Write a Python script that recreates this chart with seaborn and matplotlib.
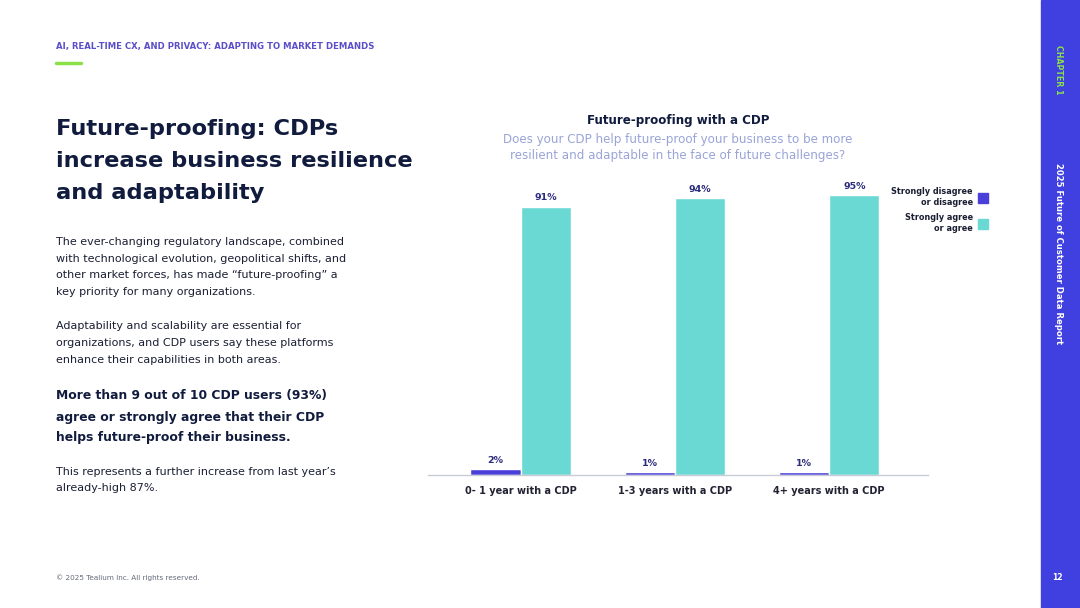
import pandas as pd
import matplotlib.pyplot as plt
import seaborn as sns
from matplotlib.patches import Rectangle
from matplotlib.lines import Line2D

groups = ["0- 1 year with a CDP", "1-3 years with a CDP", "4+ years with a CDP"]
answers = ["Strongly disagree\nor disagree", "Strongly agree\nor agree"]
disagree = [2, 1, 1]
agree = [91, 94, 95]

purple = "#4A3FD8"
teal = "#6AD9D4"
navy = "#101B3D"

df = pd.DataFrame({
    "Group": groups * 2,
    "Answer": [answers[0]] * 3 + [answers[1]] * 3,
    "Pct": disagree + agree,
})

sns.set_style("white")
plt.rcParams["font.family"] = ["DejaVu Sans"]

fig = plt.figure(figsize=(10.8, 6.08), dpi=100)
W, H = 1080, 608

ax = fig.add_axes([428 / W, 1 - 475 / H, 500 / W, 295 / H])
sns.barplot(data=df, x="Group", y="Pct", hue="Answer", order=groups,
            hue_order=answers, palette=[purple, teal], width=0.65,
            saturation=1, ax=ax, legend=False)
ax.set_xlim(-0.6, 2.64)
ax.set_ylim(0, 100)
for c in ax.containers:
    ax.bar_label(c, labels=[f"{v:.0f}%" for v in c.datavalues], padding=3,
                 fontsize=6.8, fontweight="bold", color="#2C2C7E")
ax.set_xlabel("")
ax.set_ylabel("")
ax.set_yticks([])
ax.tick_params(axis="x", length=0, pad=8, labelsize=7.0, labelcolor="#222233")
for t in ax.get_xticklabels():
    t.set_fontweight("bold")
for s in ["top", "right", "left"]:
    ax.spines[s].set_visible(False)
ax.spines["bottom"].set_color("#c9ccd8")
ax.spines["bottom"].set_linewidth(1)

handles = [Line2D([], [], marker="s", ls="", markersize=7, color=purple),
           Line2D([], [], marker="s", ls="", markersize=7, color=teal)]
fig.legend(handles, answers, loc="upper right", bbox_to_anchor=(999 / W, 1 - 180 / H),
           markerfirst=False, frameon=False, handletextpad=0.3,
           labelspacing=0.8, prop={"weight": "bold", "size": 5.9})
for t in fig.legends[0].get_texts():
    t.set_ha("right")
    t.set_multialignment("right")
    t.set_color("#1b1f33")

# chart titles
fig.text(678 / W, 1 - 120 / H, "Future-proofing with a CDP", ha="center", va="center",
         fontsize=8.6, fontweight="bold", color=navy)
fig.text(678 / W, 1 - 147 / H,
         "Does your CDP help future-proof your business to be more\n"
         "resilient and adaptable in the face of future challenges?",
         ha="center", va="center", fontsize=8.6, color="#9AA4D8", linespacing=1.3)

# left column
fig.text(56 / W, 1 - 47 / H, "AI, REAL-TIME CX, AND PRIVACY: ADAPTING TO MARKET DEMANDS",
         ha="left", va="center", fontsize=6.1, fontweight="bold", color="#5A4FC8")
fig.add_artist(Line2D([56 / W, 81 / W], [1 - 63 / H, 1 - 63 / H], color="#8BE04A", lw=2.5))
fig.text(56 / W, 1 - 161 / H,
         "Future-proofing: CDPs\nincrease business resilience\nand adaptability",
         ha="left", va="center", fontsize=16.2, fontweight="bold", color=navy,
         linespacing=1.77)
fig.text(56 / W, 1 - 267 / H,
         "The ever-changing regulatory landscape, combined\n"
         "with technological evolution, geopolitical shifts, and\n"
         "other market forces, has made \u201cfuture-proofing\u201d a\n"
         "key priority for many organizations.",
         ha="left", va="center", fontsize=8.0, color="#1b1f33", linespacing=1.86)
fig.text(56 / W, 1 - 343 / H,
         "Adaptability and scalability are essential for\n"
         "organizations, and CDP users say these platforms\n"
         "enhance their capabilities in both areas.",
         ha="left", va="center", fontsize=8.0, color="#1b1f33", linespacing=1.86)
fig.text(56 / W, 1 - 417 / H,
         "More than 9 out of 10 CDP users (93%)\n"
         "agree or strongly agree that their CDP\n"
         "helps future-proof their business.",
         ha="left", va="center", fontsize=8.9, fontweight="bold", color=navy,
         linespacing=1.8)
fig.text(56 / W, 1 - 480 / H,
         "This represents a further increase from last year\u2019s\n"
         "already-high 87%.",
         ha="left", va="center", fontsize=8.0, color="#1b1f33", linespacing=1.86)
fig.text(56 / W, 1 - 578 / H, "\u00a9 2025 Tealium Inc. All rights reserved.",
         ha="left", va="center", fontsize=5.2, color="#666a7a")

# side band
fig.add_artist(Rectangle((1041 / W, 0), 39 / W, 1, transform=fig.transFigure,
                         color="#4040E0", zorder=0))
fig.text(1059 / W, 1 - 70 / H, "CHAPTER 1", rotation=-90, ha="center", va="center",
         fontsize=5.7, fontweight="bold", color="#8BE04A")
fig.text(1059 / W, 1 - 254 / H, "2025 Future of Customer Data Report", rotation=-90,
         ha="center", va="center", fontsize=6.1, fontweight="bold", color="white")
fig.text(1057 / W, 1 - 578 / H, "12", ha="center", va="center", fontsize=5.5,
         fontweight="bold", color="white")

fig.savefig("out.png", dpi=100, facecolor="white")
